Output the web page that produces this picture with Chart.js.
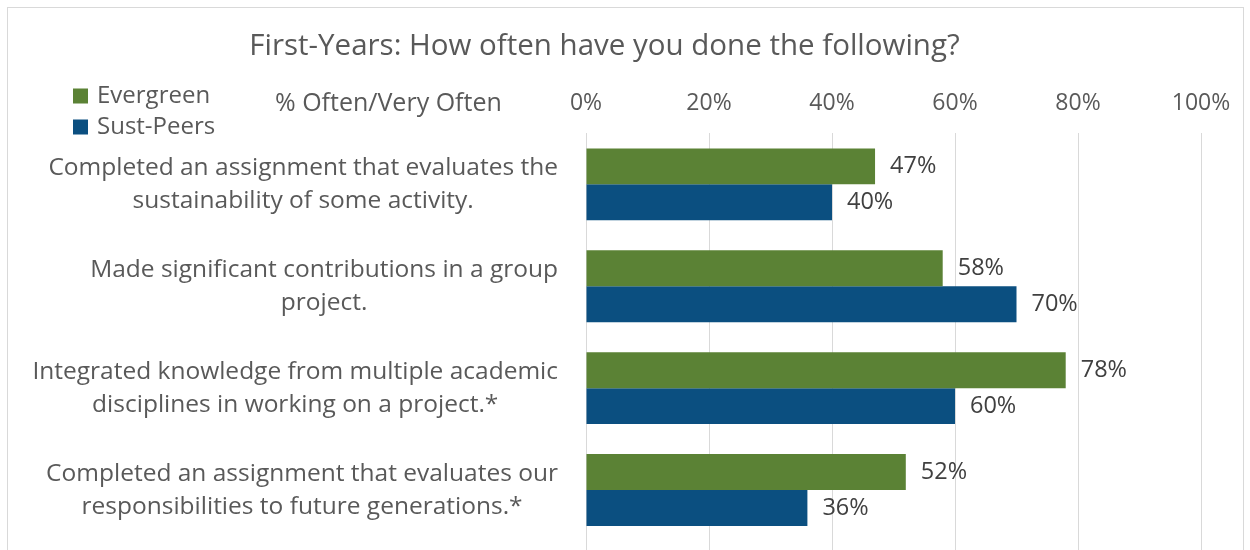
<!DOCTYPE html>
<html>
<head>
<meta charset="utf-8">
<script src="https://cdn.jsdelivr.net/npm/chart.js@4/dist/chart.umd.min.js"></script>
<style>
  html, body { margin: 0; padding: 0; background: #fff; }
  #wrap { width: 1250px; height: 550px; }
</style>
</head>
<body>
<div id="wrap"><canvas id="chart" width="1250" height="550"></canvas></div>
<script>
const categories = [
  ['Completed an assignment that evaluates the', 'sustainability of some activity.'],
  ['Made significant contributions in a group', 'project.'],
  ['Integrated knowledge from multiple academic', 'disciplines in working on a project.*'],
  ['Completed an assignment that evaluates our', 'responsibilities to future generations.*']
];
const evergreen = [47, 58, 78, 52];
const sustPeers = [40, 70, 60, 36];
const seriesNames = ['Evergreen', 'Sust-Peers'];
const axisMin = 0, axisMax = 100, axisStep = 20;
const axisTitle = '% Often/Very Often';
const chartTitle = 'First-Years: How often have you done the following?';

const FONT = "'Open Sans', sans-serif";
const GREEN = '#5b8235';
const BLUE = '#0b4f80';
const TEXT = '#595959';

// white background + light frame like the original
const framePlugin = {
  id: 'frame',
  beforeDraw(chart) {
    const ctx = chart.ctx;
    ctx.save();
    ctx.fillStyle = '#fff';
    ctx.fillRect(0, 0, chart.width, chart.height);
    ctx.strokeStyle = '#d9d9d9';
    ctx.lineWidth = 1;
    ctx.strokeRect(7.5, 7.5, 1236, 600);
    ctx.restore();
  },
  // gridlines run on to the bottom edge in the original
  beforeDatasetsDraw(chart) {
    const ctx = chart.ctx;
    const x = chart.scales.x;
    ctx.save();
    ctx.strokeStyle = '#d9d9d9';
    ctx.lineWidth = 1;
    x.ticks.forEach(t => {
      const px = Math.round(x.getPixelForValue(t.value)) + 0.5;
      ctx.beginPath();
      ctx.moveTo(px, chart.chartArea.bottom);
      ctx.lineTo(px, chart.height);
      ctx.stroke();
    });
    ctx.restore();
  }
};

// category labels: block right aligned, lines centred (Excel style)
const catLabels = {
  id: 'catLabels',
  afterDraw(chart) {
    const ctx = chart.ctx;
    const y = chart.scales.y;
    const right = chart.chartArea.left - 28;
    const lh = 33;
    ctx.save();
    ctx.font = '24.5px ' + FONT;
    ctx.fillStyle = TEXT;
    ctx.textAlign = 'center';
    ctx.textBaseline = 'middle';
    chart.data.labels.forEach((lines, i) => {
      const w = Math.max(...lines.map(l => ctx.measureText(l).width));
      const cx = right - w / 2;
      const cy = y.getPixelForValue(i);
      const top = cy - (lines.length - 1) * lh / 2;
      lines.forEach((l, k) => ctx.fillText(l, cx, top + k * lh));
    });
    ctx.restore();
  }
};

const valueLabels = {
  id: 'valueLabels',
  afterDatasetsDraw(chart) {
    const ctx = chart.ctx;
    ctx.save();
    ctx.font = '23.5px ' + FONT;
    ctx.fillStyle = '#404040';
    ctx.textAlign = 'left';
    ctx.textBaseline = 'middle';
    chart.data.datasets.forEach((ds, di) => {
      chart.getDatasetMeta(di).data.forEach((bar, i) => {
        ctx.fillText(ds.data[i] + '%', bar.x + 15, bar.y);
      });
    });
    ctx.restore();
  }
};

const legendAndAxisTitle = {
  id: 'legendAndAxisTitle',
  afterDraw(chart) {
    const ctx = chart.ctx;
    ctx.save();
    ctx.textBaseline = 'middle';
    ctx.font = '24px ' + FONT;
    chart.data.datasets.forEach((ds, i) => {
      const cy = 96 + i * 31;
      ctx.fillStyle = ds.backgroundColor;
      ctx.fillRect(73, cy - 7.5, 15, 15);
      ctx.fillStyle = TEXT;
      ctx.fillText(ds.label, 97, cy);
    });
    ctx.font = '25px ' + FONT;
    ctx.fillText(axisTitle, 275, 104);
    ctx.restore();
  }
};

new Chart(document.getElementById('chart'), {
  type: 'bar',
  data: {
    labels: categories,
    datasets: [
      { label: seriesNames[0], data: evergreen, backgroundColor: GREEN },
      { label: seriesNames[1], data: sustPeers, backgroundColor: BLUE }
    ]
  },
  options: {
    indexAxis: 'y',
    responsive: false,
    animation: false,
    categoryPercentage: 0.706,
    barPercentage: 1.0,
    layout: { padding: { left: 8, right: 49, bottom: 9, top: 0 } },
    plugins: {
      legend: { display: false },
      tooltip: { enabled: false },
      title: {
        display: true,
        text: chartTitle,
        color: TEXT,
        font: { family: FONT, size: 29.5, weight: 'normal' },
        padding: { top: 29, bottom: 8 }
      }
    },
    scales: {
      x: {
        position: 'top',
        min: axisMin,
        max: axisMax,
        afterFit(scale) { scale.height = 61; },
        ticks: {
          stepSize: axisStep,
          padding: 16,
          color: TEXT,
          font: { family: FONT, size: 23 },
          callback: v => v + '%'
        },
        grid: { color: '#d9d9d9', lineWidth: 1, drawTicks: false },
        border: { display: false }
      },
      y: {
        afterFit(scale) { scale.width = 578; },
        ticks: { display: false },
        grid: { display: false },
        border: { display: false }
      }
    }
  },
  plugins: [framePlugin, catLabels, valueLabels, legendAndAxisTitle]
});
</script>
</body>
</html>
